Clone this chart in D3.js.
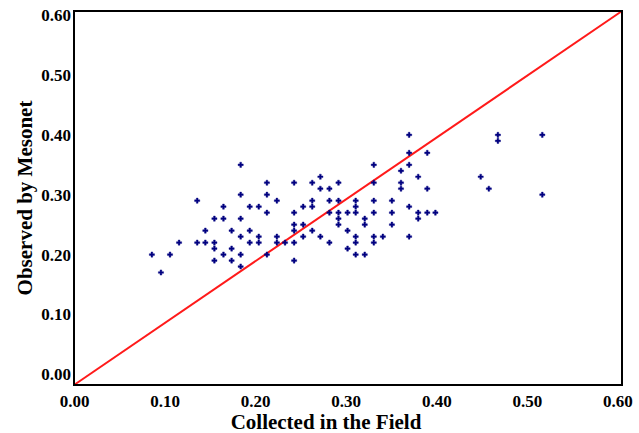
<!DOCTYPE html>
<html>
<head>
<meta charset="utf-8">
<script src="https://cdn.jsdelivr.net/npm/d3@7"></script>
<style>
  body { margin: 0; background: #fff; }
  svg text { font-family: "Liberation Serif", "Times New Roman", serif; font-weight: bold; }
</style>
</head>
<body>
<svg id="chart" width="639" height="433"></svg>
<script>
// Soil moisture: field samples vs. Mesonet readings
var fieldVals = [
  0.136, 0.116, 0.136, 0.086, 0.106, 0.096,
  0.184, 0.272, 0.213, 0.243, 0.263, 0.292, 0.272, 0.282,
  0.184, 0.213, 0.224, 0.263, 0.282, 0.292,
  0.165, 0.194, 0.204, 0.253, 0.263,
  0.213, 0.243, 0.282, 0.292,
  0.155, 0.165, 0.184, 0.292,
  0.243, 0.253, 0.292,
  0.145, 0.174, 0.194, 0.243, 0.263,
  0.184, 0.204, 0.224, 0.253, 0.272,
  0.145, 0.155, 0.194, 0.204, 0.224, 0.233, 0.243, 0.282,
  0.155, 0.174, 0.165, 0.184, 0.213,
  0.155, 0.174, 0.243, 0.184,
  0.370, 0.370, 0.390, 0.331, 0.370, 0.361, 0.380,
  0.331, 0.361, 0.361, 0.390,
  0.311, 0.331, 0.351, 0.311, 0.370,
  0.302, 0.311, 0.331, 0.351, 0.380, 0.390, 0.399,
  0.321, 0.380, 0.321, 0.351, 0.302,
  0.311, 0.331, 0.341, 0.370,
  0.311, 0.331, 0.302, 0.311, 0.321,
  0.468, 0.517, 0.468, 0.449, 0.458, 0.517
];
var mesonetVals = [
  0.29, 0.22, 0.22, 0.20, 0.20, 0.17,
  0.35, 0.33, 0.32, 0.32, 0.32, 0.32, 0.31, 0.31,
  0.30, 0.30, 0.29, 0.29, 0.29, 0.29,
  0.28, 0.28, 0.28, 0.28, 0.28,
  0.27, 0.27, 0.27, 0.27,
  0.26, 0.26, 0.26, 0.26,
  0.25, 0.25, 0.25,
  0.24, 0.24, 0.24, 0.24, 0.24,
  0.23, 0.23, 0.23, 0.23, 0.23,
  0.22, 0.22, 0.22, 0.22, 0.22, 0.22, 0.22, 0.22,
  0.21, 0.21, 0.20, 0.20, 0.20,
  0.19, 0.19, 0.19, 0.18,
  0.40, 0.37, 0.37, 0.35, 0.35, 0.34, 0.33,
  0.32, 0.32, 0.31, 0.31,
  0.29, 0.29, 0.29, 0.28, 0.28,
  0.27, 0.27, 0.27, 0.27, 0.27, 0.27, 0.27,
  0.26, 0.26, 0.25, 0.25, 0.24,
  0.23, 0.23, 0.23, 0.23,
  0.22, 0.22, 0.21, 0.20, 0.20,
  0.40, 0.40, 0.39, 0.33, 0.31, 0.30
];
var tickVals = [0, 0.1, 0.2, 0.3, 0.4, 0.5, 0.6];

var svg = d3.select("#chart");

// Plot box
var boxL = 74, boxR = 622, boxT = 11, boxB = 385;

var x = d3.scaleLinear()
  .domain([0, 0.605])
  .range([boxL, boxR]);
var y = d3.scaleLinear()
  .domain([-0.018, 0.607])
  .range([boxB, boxT]);

var points = fieldVals.map(function(v, i) { return { f: v, m: mesonetVals[i] }; });

// x axis labels
svg.append("g")
  .attr("transform", "translate(0," + boxB + ")")
  .call(d3.axisBottom(x).tickValues(tickVals).tickSize(0).tickPadding(10)
    .tickFormat(d3.format(".2f")))
  .call(function(g) { g.select(".domain").remove(); })
  .selectAll("text")
    .style("font-size", "17px")
    .attr("fill", "#000");

// y axis labels
svg.append("g")
  .attr("transform", "translate(" + boxL + ",0)")
  .call(d3.axisLeft(y).tickValues(tickVals).tickSize(0).tickPadding(3)
    .tickFormat(d3.format(".2f")))
  .call(function(g) { g.select(".domain").remove(); })
  .selectAll("text")
    .style("font-size", "17px")
    .attr("fill", "#000");

// 1:1 line across the box
var diag = [
  [x.domain()[0], y.domain()[0]],
  [x.domain()[1], y.domain()[1]]
];
svg.append("path")
  .datum(diag)
  .attr("d", d3.line().x(function(d) { return x(d[0]); }).y(function(d) { return y(d[1]); }))
  .attr("stroke", "#ff1a1a")
  .attr("stroke-width", 2)
  .attr("fill", "none");

// points
svg.append("g")
  .selectAll("path")
  .data(points)
  .enter()
  .append("path")
    .attr("transform", function(d) { return "translate(" + x(d.f) + "," + y(d.m) + ")"; })
    .attr("d", d3.symbol().type(d3.symbolCross).size(15))
    .attr("fill", "#000080")
    .attr("stroke", "#000080")
    .attr("stroke-width", 0.4);

// frame
svg.append("rect")
  .attr("x", boxL)
  .attr("y", boxT)
  .attr("width", boxR - boxL)
  .attr("height", boxB - boxT)
  .attr("fill", "none")
  .attr("stroke", "#000")
  .attr("stroke-width", 2);

// axis titles
svg.append("text")
  .attr("x", 326)
  .attr("y", 429)
  .attr("text-anchor", "middle")
  .style("font-size", "21px")
  .text("Collected in the Field");

svg.append("text")
  .attr("transform", "translate(32,198) rotate(-90)")
  .attr("text-anchor", "middle")
  .style("font-size", "21px")
  .text("Observed by Mesonet");
</script>
</body>
</html>
